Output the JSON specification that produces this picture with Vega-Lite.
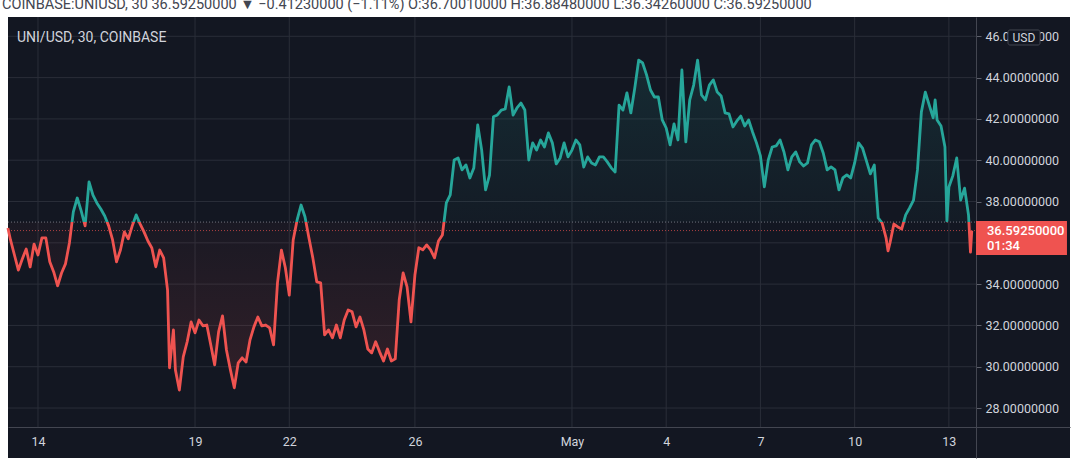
{
  "$schema": "https://vega.github.io/schema/vega-lite/v6.json",
  "width": 1062,
  "height": 441,
  "autosize": {"type": "none"},
  "padding": {"left": 8, "top": 17, "right": 10, "bottom": 10},
  "background": "#ffffff",
  "config": {"view": {"fill": "#131722", "stroke": null}, "font": "Roboto"},
  "title": {
    "text": "COINBASE:UNIUSD, 30  36.59250000 ▼ −0.41230000 (−1.11%)  O:36.70010000 H:36.88480000 L:36.34260000 C:36.59250000",
    "anchor": "start",
    "frame": "group",
    "orient": "top",
    "offset": 4,
    "font": "Roboto",
    "fontSize": 14.5,
    "fontWeight": "normal",
    "color": "#434651",
    "dx": -6
  },
  "datasets": {
    "ygrid": [{"v": 28}, {"v": 30}, {"v": 32}, {"v": 34}, {"v": 36}, {"v": 38}, {"v": 40}, {"v": 42}, {"v": 44}, {"v": 46}],
    "xgrid": [{"d": "2021-04-14T00:00Z"}, {"d": "2021-04-19T00:00Z"}, {"d": "2021-04-22T00:00Z"}, {"d": "2021-04-26T00:00Z"}, {"d": "2021-05-01T00:00Z"}, {"d": "2021-05-04T00:00Z"}, {"d": "2021-05-07T00:00Z"}, {"d": "2021-05-10T00:00Z"}, {"d": "2021-05-13T00:00Z"}],
    "tag": [{"price": "36.59250000", "timer": "01:34", "unit": "USD", "name": "UNI/USD, 30, COINBASE"}],
    "price": [
      {"t": "2021-04-13T01:00Z", "p": 36.72}, {"t": "2021-04-13T03:00Z", "p": 36.14}, {"t": "2021-04-13T06:00Z", "p": 35.41}, {"t": "2021-04-13T09:00Z", "p": 34.68},
      {"t": "2021-04-13T12:00Z", "p": 35.22}, {"t": "2021-04-13T15:00Z", "p": 35.70}, {"t": "2021-04-13T18:00Z", "p": 34.83}, {"t": "2021-04-13T21:00Z", "p": 35.94},
      {"t": "2021-04-14T00:00Z", "p": 35.41}, {"t": "2021-04-14T03:00Z", "p": 36.24}, {"t": "2021-04-14T06:00Z", "p": 36.24}, {"t": "2021-04-14T09:00Z", "p": 35.08},
      {"t": "2021-04-14T12:00Z", "p": 34.59}, {"t": "2021-04-14T15:00Z", "p": 33.92}, {"t": "2021-04-14T18:00Z", "p": 34.54}, {"t": "2021-04-14T21:00Z", "p": 34.98},
      {"t": "2021-04-15T00:00Z", "p": 35.99}, {"t": "2021-04-15T03:00Z", "p": 37.50}, {"t": "2021-04-15T06:00Z", "p": 38.17}, {"t": "2021-04-15T09:00Z", "p": 37.55},
      {"t": "2021-04-15T12:00Z", "p": 36.82}, {"t": "2021-04-15T15:00Z", "p": 38.95}, {"t": "2021-04-15T18:00Z", "p": 38.31}, {"t": "2021-04-15T21:00Z", "p": 37.93},
      {"t": "2021-04-16T00:00Z", "p": 37.64}, {"t": "2021-04-16T03:00Z", "p": 37.30}, {"t": "2021-04-16T06:00Z", "p": 36.82}, {"t": "2021-04-16T09:00Z", "p": 36.14},
      {"t": "2021-04-16T12:00Z", "p": 35.08}, {"t": "2021-04-16T15:00Z", "p": 35.65}, {"t": "2021-04-16T18:00Z", "p": 36.53}, {"t": "2021-04-16T21:00Z", "p": 36.19},
      {"t": "2021-04-17T00:00Z", "p": 36.82}, {"t": "2021-04-17T03:00Z", "p": 37.35}, {"t": "2021-04-17T06:00Z", "p": 36.92}, {"t": "2021-04-17T09:00Z", "p": 36.53},
      {"t": "2021-04-17T12:00Z", "p": 36.09}, {"t": "2021-04-17T15:00Z", "p": 35.75}, {"t": "2021-04-17T18:00Z", "p": 34.84}, {"t": "2021-04-17T21:00Z", "p": 35.65},
      {"t": "2021-04-18T00:00Z", "p": 35.27}, {"t": "2021-04-18T03:00Z", "p": 33.71}, {"t": "2021-04-18T04:30Z", "p": 29.95}, {"t": "2021-04-18T07:30Z", "p": 31.78},
      {"t": "2021-04-18T09:00Z", "p": 29.84}, {"t": "2021-04-18T12:00Z", "p": 28.87}, {"t": "2021-04-18T15:00Z", "p": 30.48}, {"t": "2021-04-18T18:00Z", "p": 31.21},
      {"t": "2021-04-18T21:00Z", "p": 32.17},
      {"t": "2021-04-19T00:00Z", "p": 31.64}, {"t": "2021-04-19T03:00Z", "p": 32.26}, {"t": "2021-04-19T06:00Z", "p": 31.98}, {"t": "2021-04-19T09:00Z", "p": 32.02},
      {"t": "2021-04-19T12:00Z", "p": 31.06}, {"t": "2021-04-19T15:00Z", "p": 30.09}, {"t": "2021-04-19T18:00Z", "p": 31.69}, {"t": "2021-04-19T21:00Z", "p": 32.46},
      {"t": "2021-04-20T00:00Z", "p": 30.81}, {"t": "2021-04-20T03:00Z", "p": 29.85}, {"t": "2021-04-20T06:00Z", "p": 28.98}, {"t": "2021-04-20T09:00Z", "p": 30.19},
      {"t": "2021-04-20T12:00Z", "p": 30.43}, {"t": "2021-04-20T15:00Z", "p": 30.23}, {"t": "2021-04-20T18:00Z", "p": 31.30}, {"t": "2021-04-20T21:00Z", "p": 31.93},
      {"t": "2021-04-21T00:00Z", "p": 32.41}, {"t": "2021-04-21T03:00Z", "p": 31.98}, {"t": "2021-04-21T06:00Z", "p": 32.02}, {"t": "2021-04-21T09:00Z", "p": 31.88},
      {"t": "2021-04-21T12:00Z", "p": 31.06}, {"t": "2021-04-21T15:00Z", "p": 34.06}, {"t": "2021-04-21T18:00Z", "p": 35.65}, {"t": "2021-04-21T21:00Z", "p": 34.79},
      {"t": "2021-04-22T00:00Z", "p": 33.47}, {"t": "2021-04-22T03:00Z", "p": 36.14}, {"t": "2021-04-22T06:00Z", "p": 37.11}, {"t": "2021-04-22T09:00Z", "p": 37.83},
      {"t": "2021-04-22T12:00Z", "p": 37.26}, {"t": "2021-04-22T15:00Z", "p": 36.24}, {"t": "2021-04-22T18:00Z", "p": 35.27}, {"t": "2021-04-22T21:00Z", "p": 34.11},
      {"t": "2021-04-23T00:00Z", "p": 34.06}, {"t": "2021-04-23T03:00Z", "p": 31.54}, {"t": "2021-04-23T06:00Z", "p": 31.78}, {"t": "2021-04-23T09:00Z", "p": 31.40},
      {"t": "2021-04-23T12:00Z", "p": 32.02}, {"t": "2021-04-23T15:00Z", "p": 31.40}, {"t": "2021-04-23T18:00Z", "p": 32.26}, {"t": "2021-04-23T21:00Z", "p": 32.75},
      {"t": "2021-04-24T00:00Z", "p": 32.66}, {"t": "2021-04-24T03:00Z", "p": 31.93}, {"t": "2021-04-24T06:00Z", "p": 32.41}, {"t": "2021-04-24T09:00Z", "p": 31.78},
      {"t": "2021-04-24T12:00Z", "p": 30.86}, {"t": "2021-04-24T15:00Z", "p": 30.67}, {"t": "2021-04-24T18:00Z", "p": 31.21}, {"t": "2021-04-24T21:00Z", "p": 30.72},
      {"t": "2021-04-25T00:00Z", "p": 30.28}, {"t": "2021-04-25T03:00Z", "p": 30.86}, {"t": "2021-04-25T06:00Z", "p": 30.28}, {"t": "2021-04-25T09:00Z", "p": 30.38},
      {"t": "2021-04-25T12:00Z", "p": 33.23}, {"t": "2021-04-25T15:00Z", "p": 34.54}, {"t": "2021-04-25T18:00Z", "p": 33.87}, {"t": "2021-04-25T21:00Z", "p": 32.17},
      {"t": "2021-04-26T00:00Z", "p": 34.44}, {"t": "2021-04-26T03:00Z", "p": 35.76}, {"t": "2021-04-26T06:00Z", "p": 35.66}, {"t": "2021-04-26T09:00Z", "p": 35.90},
      {"t": "2021-04-26T12:00Z", "p": 35.66}, {"t": "2021-04-26T15:00Z", "p": 35.27}, {"t": "2021-04-26T18:00Z", "p": 36.09}, {"t": "2021-04-26T21:00Z", "p": 36.38},
      {"t": "2021-04-27T00:00Z", "p": 37.93}, {"t": "2021-04-27T03:00Z", "p": 38.32}, {"t": "2021-04-27T06:00Z", "p": 40.01}, {"t": "2021-04-27T09:00Z", "p": 40.11},
      {"t": "2021-04-27T12:00Z", "p": 39.53}, {"t": "2021-04-27T15:00Z", "p": 39.77}, {"t": "2021-04-27T18:00Z", "p": 39.14}, {"t": "2021-04-27T21:00Z", "p": 39.62},
      {"t": "2021-04-28T00:00Z", "p": 41.71}, {"t": "2021-04-28T03:00Z", "p": 40.50}, {"t": "2021-04-28T06:00Z", "p": 38.56}, {"t": "2021-04-28T09:00Z", "p": 39.28},
      {"t": "2021-04-28T12:00Z", "p": 42.10}, {"t": "2021-04-28T15:00Z", "p": 42.19}, {"t": "2021-04-28T18:00Z", "p": 42.43}, {"t": "2021-04-28T21:00Z", "p": 42.48},
      {"t": "2021-04-29T00:00Z", "p": 43.55}, {"t": "2021-04-29T03:00Z", "p": 42.19}, {"t": "2021-04-29T06:00Z", "p": 42.53}, {"t": "2021-04-29T09:00Z", "p": 42.77},
      {"t": "2021-04-29T12:00Z", "p": 42.43}, {"t": "2021-04-29T15:00Z", "p": 40.01}, {"t": "2021-04-29T18:00Z", "p": 40.84}, {"t": "2021-04-29T21:00Z", "p": 40.49},
      {"t": "2021-04-30T00:00Z", "p": 40.98}, {"t": "2021-04-30T03:00Z", "p": 40.64}, {"t": "2021-04-30T06:00Z", "p": 41.32}, {"t": "2021-04-30T09:00Z", "p": 40.84},
      {"t": "2021-04-30T12:00Z", "p": 39.82}, {"t": "2021-04-30T15:00Z", "p": 40.11}, {"t": "2021-04-30T18:00Z", "p": 40.84}, {"t": "2021-04-30T21:00Z", "p": 40.16},
      {"t": "2021-05-01T00:00Z", "p": 40.49}, {"t": "2021-05-01T03:00Z", "p": 40.98}, {"t": "2021-05-01T06:00Z", "p": 40.74}, {"t": "2021-05-01T09:00Z", "p": 39.67},
      {"t": "2021-05-01T12:00Z", "p": 40.16}, {"t": "2021-05-01T15:00Z", "p": 39.87}, {"t": "2021-05-01T18:00Z", "p": 39.77}, {"t": "2021-05-01T21:00Z", "p": 40.16},
      {"t": "2021-05-02T00:00Z", "p": 40.16}, {"t": "2021-05-02T03:00Z", "p": 39.92}, {"t": "2021-05-02T06:00Z", "p": 39.63}, {"t": "2021-05-02T09:00Z", "p": 39.43},
      {"t": "2021-05-02T12:00Z", "p": 42.67}, {"t": "2021-05-02T15:00Z", "p": 42.43}, {"t": "2021-05-02T18:00Z", "p": 43.26}, {"t": "2021-05-02T21:00Z", "p": 42.29},
      {"t": "2021-05-03T00:00Z", "p": 43.50}, {"t": "2021-05-03T03:00Z", "p": 44.85}, {"t": "2021-05-03T06:00Z", "p": 44.71}, {"t": "2021-05-03T09:00Z", "p": 44.13},
      {"t": "2021-05-03T12:00Z", "p": 43.40}, {"t": "2021-05-03T15:00Z", "p": 43.06}, {"t": "2021-05-03T18:00Z", "p": 43.06}, {"t": "2021-05-03T21:00Z", "p": 41.95},
      {"t": "2021-05-04T00:00Z", "p": 41.56}, {"t": "2021-05-04T03:00Z", "p": 40.74}, {"t": "2021-05-04T06:00Z", "p": 41.76}, {"t": "2021-05-04T09:00Z", "p": 40.98},
      {"t": "2021-05-04T12:00Z", "p": 44.37}, {"t": "2021-05-04T15:00Z", "p": 40.89}, {"t": "2021-05-04T18:00Z", "p": 42.92}, {"t": "2021-05-04T21:00Z", "p": 43.64},
      {"t": "2021-05-05T00:00Z", "p": 44.85}, {"t": "2021-05-05T03:00Z", "p": 43.16}, {"t": "2021-05-05T06:00Z", "p": 42.92}, {"t": "2021-05-05T09:00Z", "p": 43.64},
      {"t": "2021-05-05T12:00Z", "p": 43.89}, {"t": "2021-05-05T15:00Z", "p": 43.30}, {"t": "2021-05-05T18:00Z", "p": 43.11}, {"t": "2021-05-05T21:00Z", "p": 42.29},
      {"t": "2021-05-06T00:00Z", "p": 42.24}, {"t": "2021-05-06T03:00Z", "p": 41.61}, {"t": "2021-05-06T06:00Z", "p": 41.90}, {"t": "2021-05-06T09:00Z", "p": 42.14},
      {"t": "2021-05-06T12:00Z", "p": 41.66}, {"t": "2021-05-06T15:00Z", "p": 41.95}, {"t": "2021-05-06T18:00Z", "p": 41.37}, {"t": "2021-05-06T21:00Z", "p": 40.84},
      {"t": "2021-05-07T00:00Z", "p": 40.21}, {"t": "2021-05-07T03:00Z", "p": 38.71}, {"t": "2021-05-07T06:00Z", "p": 40.01}, {"t": "2021-05-07T09:00Z", "p": 40.64},
      {"t": "2021-05-07T12:00Z", "p": 40.69}, {"t": "2021-05-07T15:00Z", "p": 40.98}, {"t": "2021-05-07T18:00Z", "p": 40.40}, {"t": "2021-05-07T21:00Z", "p": 39.53},
      {"t": "2021-05-08T00:00Z", "p": 40.16}, {"t": "2021-05-08T03:00Z", "p": 40.40}, {"t": "2021-05-08T06:00Z", "p": 39.92}, {"t": "2021-05-08T09:00Z", "p": 39.72},
      {"t": "2021-05-08T12:00Z", "p": 39.87}, {"t": "2021-05-08T15:00Z", "p": 40.74}, {"t": "2021-05-08T18:00Z", "p": 40.98}, {"t": "2021-05-08T21:00Z", "p": 40.89},
      {"t": "2021-05-09T00:00Z", "p": 40.35}, {"t": "2021-05-09T03:00Z", "p": 39.53}, {"t": "2021-05-09T06:00Z", "p": 39.68}, {"t": "2021-05-09T09:00Z", "p": 39.53},
      {"t": "2021-05-09T12:00Z", "p": 38.56}, {"t": "2021-05-09T15:00Z", "p": 39.14}, {"t": "2021-05-09T18:00Z", "p": 39.29}, {"t": "2021-05-09T21:00Z", "p": 39.14},
      {"t": "2021-05-10T00:00Z", "p": 39.87}, {"t": "2021-05-10T03:00Z", "p": 40.84}, {"t": "2021-05-10T06:00Z", "p": 40.59}, {"t": "2021-05-10T09:00Z", "p": 39.97},
      {"t": "2021-05-10T12:00Z", "p": 39.34}, {"t": "2021-05-10T15:00Z", "p": 39.77}, {"t": "2021-05-10T18:00Z", "p": 37.21}, {"t": "2021-05-10T21:00Z", "p": 36.96},
      {"t": "2021-05-11T00:00Z", "p": 36.24}, {"t": "2021-05-11T01:30Z", "p": 35.61}, {"t": "2021-05-11T03:00Z", "p": 35.99}, {"t": "2021-05-11T06:00Z", "p": 36.91},
      {"t": "2021-05-11T09:00Z", "p": 36.77}, {"t": "2021-05-11T12:00Z", "p": 36.67}, {"t": "2021-05-11T15:00Z", "p": 37.35}, {"t": "2021-05-11T18:00Z", "p": 37.69},
      {"t": "2021-05-11T21:00Z", "p": 38.07},
      {"t": "2021-05-12T00:00Z", "p": 39.53}, {"t": "2021-05-12T03:00Z", "p": 42.34}, {"t": "2021-05-12T06:00Z", "p": 43.30}, {"t": "2021-05-12T09:00Z", "p": 42.67},
      {"t": "2021-05-12T12:00Z", "p": 42.05}, {"t": "2021-05-12T13:30Z", "p": 42.92}, {"t": "2021-05-12T15:00Z", "p": 41.95}, {"t": "2021-05-12T18:00Z", "p": 41.66},
      {"t": "2021-05-12T21:00Z", "p": 40.64}, {"t": "2021-05-12T22:30Z", "p": 37.06},
      {"t": "2021-05-13T00:00Z", "p": 38.70}, {"t": "2021-05-13T03:00Z", "p": 39.24}, {"t": "2021-05-13T06:00Z", "p": 40.11}, {"t": "2021-05-13T09:00Z", "p": 38.07},
      {"t": "2021-05-13T12:00Z", "p": 38.65}, {"t": "2021-05-13T15:00Z", "p": 37.35}, {"t": "2021-05-13T16:30Z", "p": 35.55}, {"t": "2021-05-13T17:30Z", "p": 36.5925}
    ]
  },
  "layer": [
    {
      "data": {"name": "price"},
      "mark": {"type": "line", "strokeWidth": 0, "opacity": 0},
      "encoding": {
        "x": {
          "field": "t", "type": "temporal",
          "scale": {
            "domain": [
              {"year": 2021, "month": 4, "date": 13, "hours": 1, "minutes": 5, "utc": true},
              {"year": 2021, "month": 5, "date": 16, "hours": 20, "minutes": 33, "utc": true}
            ],
            "nice": false
          },
          "axis": {
            "orient": "bottom", "offset": -31, "title": null, "grid": false,
            "ticks": false, "tickSize": 0, "labelPadding": 8,
            "values": [
              {"year": 2021, "month": 4, "date": 14, "utc": true},
              {"year": 2021, "month": 4, "date": 19, "utc": true},
              {"year": 2021, "month": 4, "date": 22, "utc": true},
              {"year": 2021, "month": 4, "date": 26, "utc": true},
              {"year": 2021, "month": 5, "date": 1, "utc": true},
              {"year": 2021, "month": 5, "date": 4, "utc": true},
              {"year": 2021, "month": 5, "date": 7, "utc": true},
              {"year": 2021, "month": 5, "date": 10, "utc": true},
              {"year": 2021, "month": 5, "date": 13, "utc": true}
            ],
            "labelExpr": "utcdate(datum.value) == 1 ? 'May' : '' + utcdate(datum.value)",
            "labelColor": "#d1d4dc", "labelFontSize": 12.5, "labelFont": "Roboto",
            "domainColor": "#434651", "labelFlush": false, "labelOverlap": false
          }
        },
        "y": {
          "field": "p", "type": "quantitative",
          "scale": {"domain": [25.58, 46.935], "nice": false, "zero": false},
          "axis": {
            "orient": "right", "offset": -94, "title": null, "grid": false,
            "values": [28, 30, 32, 34, 38, 40, 42, 44, 46], "format": ".8f",
            "tickSize": 5, "tickColor": "#5d606b", "labelPadding": 4,
            "labelColor": "#d1d4dc", "labelFontSize": 12.5, "labelFont": "Roboto",
            "domainColor": "#434651", "labelFlush": false, "labelOverlap": false
          }
        }
      }
    },
    {
      "data": {"name": "ygrid"},
      "mark": {"type": "rule", "color": "#2a2e39", "strokeWidth": 1},
      "encoding": {
        "y": {"field": "v", "type": "quantitative"},
        "x": {"datum": {"year": 2021, "month": 4, "date": 13, "hours": 1, "minutes": 5, "utc": true}, "type": "temporal"},
        "x2": {"datum": {"year": 2021, "month": 5, "date": 13, "hours": 20, "minutes": 43, "utc": true}}
      }
    },
    {
      "data": {"name": "xgrid"},
      "mark": {"type": "rule", "color": "#2a2e39", "strokeWidth": 1},
      "encoding": {
        "x": {"field": "d", "type": "temporal"},
        "y": {"datum": 27.08, "type": "quantitative"},
        "y2": {"datum": 46.935}
      }
    },
    {
      "data": {"name": "price"},
      "mark": {
        "type": "area",
        "fill": {
          "gradient": "linear", "x1": 0, "y1": 0, "x2": 0, "y2": 1,
          "stops": [
            {"offset": 0, "color": "rgba(38,166,154,0.14)"},
            {"offset": 0.49094, "color": "rgba(38,166,154,0.03)"},
            {"offset": 0.49094, "color": "rgba(239,83,80,0.03)"},
            {"offset": 1, "color": "rgba(239,83,80,0.14)"}
          ]
        }
      },
      "encoding": {
        "x": {"field": "t", "type": "temporal"},
        "y": {"field": "p", "type": "quantitative"},
        "y2": {"datum": 37.0048}
      }
    },
    {
      "data": {"values": [{}]},
      "mark": {"type": "rule", "color": "#9598a1", "strokeWidth": 1, "strokeDash": [1, 2], "opacity": 0.7},
      "encoding": {
        "y": {"datum": 37.0048, "type": "quantitative"},
        "x": {"datum": {"year": 2021, "month": 4, "date": 13, "hours": 1, "minutes": 5, "utc": true}, "type": "temporal"},
        "x2": {"datum": {"year": 2021, "month": 5, "date": 13, "hours": 20, "minutes": 43, "utc": true}}
      }
    },
    {
      "data": {"values": [{}]},
      "mark": {"type": "rule", "color": "#ef5350", "strokeWidth": 1, "strokeDash": [1, 2], "opacity": 0.7},
      "encoding": {
        "y": {"datum": 36.5925, "type": "quantitative"},
        "x": {"datum": {"year": 2021, "month": 4, "date": 13, "hours": 1, "minutes": 5, "utc": true}, "type": "temporal"},
        "x2": {"datum": {"year": 2021, "month": 5, "date": 13, "hours": 20, "minutes": 43, "utc": true}}
      }
    },
    {
      "data": {"name": "price"},
      "mark": {
        "type": "line",
        "strokeWidth": 2.8,
        "strokeJoin": "round",
        "stroke": {
          "gradient": "linear", "x1": 0, "y1": 0, "x2": 0, "y2": 1,
          "stops": [
            {"offset": 0, "color": "#26a69a"},
            {"offset": 0.49094, "color": "#26a69a"},
            {"offset": 0.49094, "color": "#ef5350"},
            {"offset": 1, "color": "#ef5350"}
          ]
        }
      },
      "encoding": {
        "x": {"field": "t", "type": "temporal"},
        "y": {"field": "p", "type": "quantitative"}
      }
    },
    {
      "data": {"name": "tag"},
      "mark": {"type": "text", "align": "left", "baseline": "middle", "color": "#d1d4dc", "fontSize": 14, "font": "Roboto"},
      "encoding": {
        "x": {"datum": {"year": 2021, "month": 4, "date": 13, "hours": 7, "minutes": 57, "utc": true}, "type": "temporal"},
        "y": {"datum": 45.94, "type": "quantitative"},
        "text": {"field": "name"}
      }
    },
    {
      "data": {"name": "tag"},
      "mark": {"type": "rect", "fill": "#ef5350"},
      "encoding": {
        "x": {"datum": {"year": 2021, "month": 5, "date": 13, "hours": 20, "minutes": 43, "utc": true}, "type": "temporal"},
        "x2": {"datum": {"year": 2021, "month": 5, "date": 16, "hours": 18, "minutes": 14, "utc": true}},
        "y": {"datum": 37.06, "type": "quantitative"},
        "y2": {"datum": 35.41}
      }
    },
    {
      "data": {"name": "tag"},
      "mark": {"type": "text", "align": "left", "baseline": "middle", "color": "#ffffff", "fontSize": 13, "font": "Roboto", "fontWeight": 500},
      "encoding": {
        "x": {"datum": {"year": 2021, "month": 5, "date": 14, "hours": 5, "minutes": 7, "utc": true}, "type": "temporal"},
        "y": {"datum": 36.5925, "type": "quantitative"},
        "text": {"field": "price"}
      }
    },
    {
      "data": {"name": "tag"},
      "mark": {"type": "text", "align": "left", "baseline": "middle", "color": "#ffffff", "fontSize": 13, "font": "Roboto", "fontWeight": 500},
      "encoding": {
        "x": {"datum": {"year": 2021, "month": 5, "date": 14, "hours": 5, "minutes": 7, "utc": true}, "type": "temporal"},
        "y": {"datum": 35.86, "type": "quantitative"},
        "text": {"field": "timer"}
      }
    },
    {
      "data": {"name": "tag"},
      "mark": {"type": "rect", "fill": "#131722", "stroke": "#434651", "strokeWidth": 1, "cornerRadius": 2},
      "encoding": {
        "x": {"datum": {"year": 2021, "month": 5, "date": 14, "hours": 21, "minutes": 10, "utc": true}, "type": "temporal"},
        "x2": {"datum": {"year": 2021, "month": 5, "date": 15, "hours": 21, "minutes": 38, "utc": true}},
        "y": {"datum": 46.306, "type": "quantitative"},
        "y2": {"datum": 45.579}
      }
    },
    {
      "data": {"name": "tag"},
      "mark": {"type": "text", "align": "center", "baseline": "middle", "color": "#d1d4dc", "fontSize": 12, "font": "Roboto"},
      "encoding": {
        "x": {"datum": {"year": 2021, "month": 5, "date": 15, "hours": 9, "minutes": 23, "utc": true}, "type": "temporal"},
        "y": {"datum": 45.94, "type": "quantitative"},
        "text": {"field": "unit"}
      }
    }
  ]
}
